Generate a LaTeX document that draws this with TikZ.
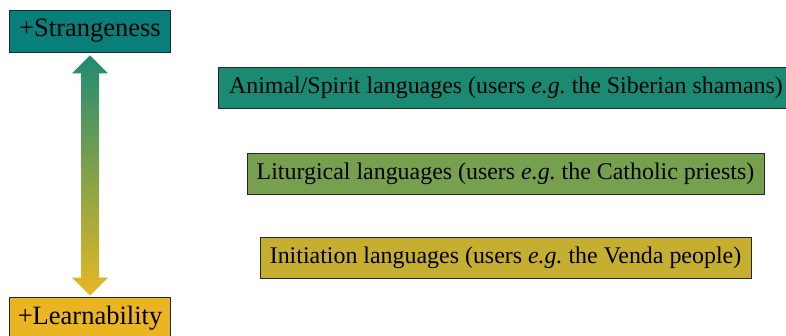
\documentclass[tikz,border=0pt]{standalone}
\usepackage{fontspec}
\setmainfont{Liberation Serif}
\usetikzlibrary{calc}
\definecolor{cTeal}{HTML}{087F7A}
\definecolor{cAnimal}{HTML}{1B8A72}
\definecolor{cLitur}{HTML}{76A04E}
\definecolor{cInit}{HTML}{C6AE30}
\definecolor{cLearn}{HTML}{EAB422}
\definecolor{cArTop}{HTML}{1F8C72}
\definecolor{cArBot}{HTML}{E8B722}
\tikzset{
  lbox/.style={draw=black!85, line width=0.8bp, inner sep=0pt, font=\fontsize{24}{28}\selectfont, text=black},
  sidebox/.style={lbox, font=\fontsize{26.6}{30}\selectfont, minimum width=161bp, minimum height=42bp},
}
\begin{document}
\begin{tikzpicture}[x=1bp,y=-1bp]
\useasboundingbox (0,0) rectangle (786,335);
\node[sidebox, fill=cTeal] (strange) at (90,31) {+Strangeness};
\node[sidebox, fill=cLearn] (learn) at (90,318) {+Learnability};
\node[lbox, fill=cAnimal, minimum width=576bp, minimum height=41bp] (animal) at (506,88) {Animal/Spirit languages (users \emph{e.g.}\ the Siberian shamans)};
\node[lbox, fill=cLitur, minimum width=517bp, minimum height=41bp] (litur) at (505.5,173.5) {Liturgical languages (users \emph{e.g.}\ the Catholic priests)};
\node[lbox, fill=cInit, minimum width=491bp, minimum height=41bp] (init) at (505.5,258) {Initiation languages (users \emph{e.g.}\ the Venda people)};
\coordinate (T) at ($(strange.south)+(0,3)$);
\coordinate (B) at ($(learn.north)+(0,-1)$);
\shade[top color=cArTop, bottom color=cArBot]
  (T) -- ($(T)+(18,18)$) -- ($(T)+(9,18)$) -- ($(B)+(9,-18)$) -- ($(B)+(18,-18)$) -- (B)
  -- ($(B)+(-18,-18)$) -- ($(B)+(-9,-18)$) -- ($(T)+(-9,18)$) -- ($(T)+(-18,18)$) -- cycle;
\end{tikzpicture}
\end{document}
